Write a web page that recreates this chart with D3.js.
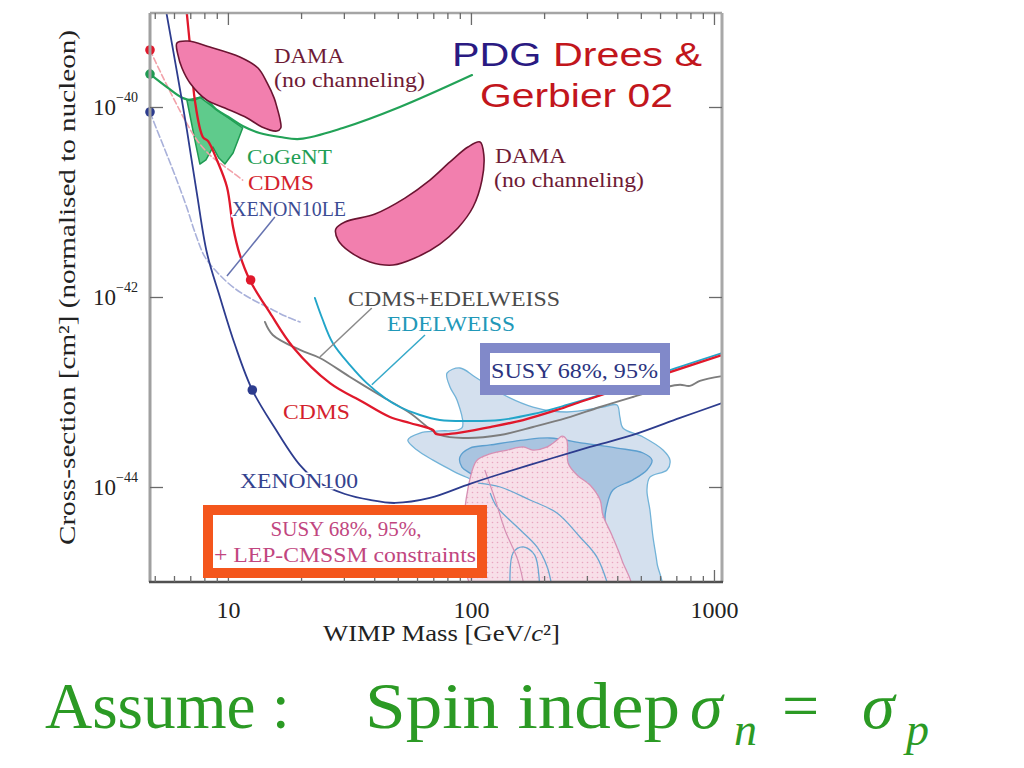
<!DOCTYPE html>
<html><head><meta charset="utf-8">
<script src="https://cdn.jsdelivr.net/npm/d3@7"></script>
<style>
html,body{margin:0;padding:0;background:#fff;}
svg{display:block;}
</style></head>
<body>
<svg id="c" width="1024" height="768"></svg>
<script>
// ---------- tick values ----------
const xTicksMajor = [10, 100, 1000];
const xTicksMinor = [5,6,7,8,9,20,30,40,50,60,70,80,90,200,300,400,500,600,700,800,900];
const yTicksMajor = [1e-40, 1e-42, 1e-44];
const yTickExp = ["\u221240", "\u221242", "\u221244"];

// ---------- exclusion curves [mass GeV, sigma cm^2] ----------
const xenon100 = [[5.51,1.19e-39],[6.17,2.34e-40],[6.78,5.73e-41],[7.45,1.24e-41],[8.20,2.90e-42],[9.27,1.0e-42],[10.7,3.12e-43],[12.6,1.05e-43],[15.6,4.18e-44],[19.8,1.70e-44],[23.9,1.10e-44],[30.3,8.44e-45],[38.4,7.30e-45],[48.7,6.79e-45],[67.8,7.66e-45],[99.1,1.08e-44],[132,1.37e-44],[217,2.02e-44],[309,2.64e-44],[464,3.53e-44],[725,5.33e-44],[1079,7.66e-44]];
const xenon10le = [[4.78,8.86e-41],[5.05,6.16e-41],[5.51,3.53e-41],[6.05,1.92e-41],[6.72,9.30e-42],[7.38,4.50e-42],[8.04,2.64e-42],[9.01,1.83e-42],[10.5,1.27e-42],[12.3,9.76e-43],[14.5,7.85e-43],[17.2,6.31e-43],[19.8,5.46e-43]];
const cdms = [[6.72,1.2e-39],[7.04,3.53e-40],[7.31,1.18e-40],[7.89,4.83e-41],[8.28,4.39e-41],[9.01,2.77e-41],[9.91,1.44e-41],[10.5,5.46e-42],[11.2,2.77e-42],[12.3,1.51e-42],[14.9,6.79e-43],[18.5,2.98e-43],[26.3,1.24e-43],[35.9,7.85e-44],[46.4,5.46e-44],[56.1,4.72e-44],[69.8,3.98e-44],[71.8,3.61e-44],[87.6,3.70e-44],[120,4.28e-44],[164,5.07e-44],[226,6.47e-44],[289,8.04e-44],[399,1.05e-43],[641,1.58e-43],[1079,2.45e-43]];
const cdmsLow = [[4.78,3.98e-40],[5.35,2.17e-40],[5.94,1.27e-40],[6.65,7.3e-41],[7.45,4.5e-41],[8.43,3.12e-41],[9.27,2.57e-41],[10.4,2.07e-41],[11.5,1.70e-41]];
const edelweiss = [[22.8,9.76e-43],[24.4,6.01e-43],[27.0,3.28e-43],[31.8,1.92e-43],[37.3,1.24e-43],[44.3,8.65e-44],[51.0,6.95e-44],[61.7,5.73e-44],[74.5,5.07e-44],[99.1,4.95e-44],[132,5.07e-44],[180,5.86e-44],[248,7.30e-44],[340,9.30e-44],[464,1.24e-43],[641,1.66e-43],[1079,2.57e-43]];
const cdmsEdelweiss = [[14.2,5.46e-43],[15.3,3.98e-43],[19.8,2.77e-43],[23.9,2.28e-43],[31.8,1.44e-43],[43.4,8.86e-44],[56.1,6.01e-44],[74.5,3.53e-44],[96.3,3.28e-44],[132,3.53e-44],[180,4.28e-44],[248,5.33e-44],[340,6.95e-44],[464,8.86e-44],[641,1.13e-43],[725,1.19e-43],[796,1.16e-43],[875,1.31e-43],[1079,1.47e-43]];
const cogentLine = [[4.78,2.22e-40],[5.61,1.62e-40],[6.53,1.24e-40],[7.18,1.18e-40],[7.89,1.27e-40],[9.01,9.3e-41],[10.2,7.66e-41],[11.5,6.31e-41],[13.5,5.33e-41],[16.4,4.83e-41],[19.8,4.61e-41],[29.7,6.01e-41],[51.0,1.0e-40],[101,2.17e-40]];

// ---------- label pointer lines ----------
const xenon10lePointer = [[15.6,6.95e-42],[9.91,1.66e-42]];
const cdmsEdelPointer = [[39.1,7.66e-43],[23.9,2.34e-43]];
const edelPointer = [[64.7,3.98e-43],[39.1,1.19e-43]];

// ---------- signal regions ----------
const dama1 = [[6.17,4.72e-40],[6.84,4.95e-40],[8.43,4.28e-40],[11.2,3.36e-40],[13.3,2.57e-40],[14.5,1.79e-40],[15.5,1.24e-40],[15.9,1.0e-40],[16.4,7.3e-41],[16.5,6.01e-41],[15.9,5.59e-41],[13.8,6.16e-41],[12.0,7.66e-41],[9.72,9.76e-41],[8.20,1.18e-40],[6.98,1.79e-40],[6.47,2.57e-40],[6.23,3.53e-40]];
const dama2 = [[109,4.28e-41],[113,3.12e-41],[111,1.70e-41],[102,8.86e-42],[88.4,5.33e-42],[74.5,3.61e-42],[58.8,2.57e-42],[47.8,2.17e-42],[38.4,2.34e-42],[31.8,2.98e-42],[28.4,3.98e-42],[27.8,5.2e-42],[30.3,6.16e-42],[40.3,7.48e-42],[53.5,1.10e-41],[67.8,1.70e-41],[82.0,2.64e-41],[97.2,3.79e-41]];
const cogentRegion = [[6.78,1.18e-40],[7.67,1.27e-40],[9.01,9.3e-41],[11.5,6.01e-41],[10.5,3.28e-41],[9.72,2.51e-41],[9.18,2.90e-41],[8.68,3.79e-41],[8.12,2.77e-41],[7.67,2.51e-41],[7.31,4.5e-41],[6.91,9.3e-41]];
const susy95 = [[79.7,1.58e-43],[90.1,1.79e-43],[104,1.44e-43],[132,9.76e-44],[180,6.95e-44],[248,6.16e-44],[349,6.95e-44],[399,7.30e-44],[410,5.46e-44],[422,4.18e-44],[511,3.36e-44],[617,2.45e-44],[659,1.92e-44],[641,1.51e-44],[545,1.27e-44],[530,9.30e-45],[545,5.73e-45],[561,2.98e-45],[583,1.58e-45],[600,8e-46],[106,8e-46],[106,4.50e-45],[104,1.10e-44],[87.6,1.40e-44],[69.8,1.92e-44],[60.0,2.45e-44],[55.0,3.12e-44],[61.7,3.70e-44],[74.5,3.89e-44],[91.8,4.18e-44],[87.6,8.24e-44],[82.0,1.13e-43]];
const susy68 = [[90.1,2.07e-44],[99.1,2.57e-44],[120,2.77e-44],[164,3.12e-44],[211,3.28e-44],[289,2.90e-44],[399,2.57e-44],[511,2.28e-44],[556,1.92e-44],[530,1.51e-44],[464,1.19e-44],[384,9.30e-45],[363,6.47e-45],[356,4.50e-45],[373,2.45e-45],[399,1.51e-45],[418,8e-46],[109,8e-46],[107,1.19e-44],[99.1,1.40e-44],[91.8,1.62e-44]];
const lepRegion = [[104,8e-46],[104,1.79e-44],[116,2.17e-44],[141,2.45e-44],[164,2.64e-44],[180,2.45e-44],[206,2.64e-44],[226,3.12e-44],[237,3.44e-44],[248,3.12e-44],[251,1.79e-44],[273,1.34e-44],[309,1.05e-44],[340,7.30e-45],[349,5.07e-45],[380,3.12e-45],[418,1.70e-45],[451,8e-46]];
const contourA = [[107,1.10e-44],[132,1.0e-44],[175,7.30e-45],[226,5.33e-45],[281,2.98e-45],[330,1.83e-45],[373,8e-46]];
const contourB = [[120,8.65e-45],[128,6.16e-45],[155,3.79e-45],[187,2.34e-45],[206,1.44e-45],[217,8e-46]];
const contourC = [[145,8e-46],[149,2.02e-45],[164,2.34e-45],[183,1.92e-45],[192,8e-46]];
const lepContour = [[114,1.51e-44],[126,7.30e-45],[138,3.53e-45],[156,1.70e-45],[167,8e-46]];

// ---------- markers ----------
const dotsRed = [[4.78,3.98e-40],[12.4,1.51e-42]];
const dotsGreen = [[4.78,2.22e-40]];
const dotsBlue = [[4.78,8.86e-41],[12.6,1.05e-43]];

// ---------- setup ----------
const svg = d3.select("#c");
const x = d3.scaleLog().domain([4.78, 1079]).range([150, 722]);
const y = d3.scaleLog().domain([1e-45, 1e-39]).range([582, 12]);
const X0 = x.range()[0], X1 = x.range()[1];
const YB = y(1e-45), YT = 13;
const SERIF = "'Liberation Serif','Times New Roman',serif";

const defs = svg.append("defs");
defs.append("clipPath").attr("id","plot").append("rect")
  .attr("x",X0).attr("y",YT).attr("width",X1-X0).attr("height",YB-YT);
const pat = defs.append("pattern").attr("id","dots").attr("width",5).attr("height",5).attr("patternUnits","userSpaceOnUse");
pat.append("rect").attr("width",5).attr("height",5).attr("fill","#f8dfe8");
pat.append("circle").attr("cx",2.5).attr("cy",2.5).attr("r",0.8).attr("fill","#e8a6c0");

const smooth = d3.line().x(d=>x(d[0])).y(d=>y(d[1])).curve(d3.curveCatmullRom.alpha(0.5));
const straight = d3.line().x(d=>x(d[0])).y(d=>y(d[1]));
const closedSmooth = d3.line().x(d=>x(d[0])).y(d=>y(d[1])).curve(d3.curveCatmullRomClosed.alpha(0.5));
const closedLinear = d3.line().x(d=>x(d[0])).y(d=>y(d[1])).curve(d3.curveLinearClosed);

const plot = svg.append("g").attr("clip-path","url(#plot)");

// SUSY regions
plot.append("path").attr("d",closedSmooth(susy95)).attr("fill","#d4e0ee").attr("stroke","#72b3d8").attr("stroke-width",1.3);
plot.append("path").attr("d",closedSmooth(susy68)).attr("fill","#a9c4e0").attr("stroke","#5c9fcf").attr("stroke-width",1.3);
plot.append("path").attr("d",closedSmooth(lepRegion)).attr("fill","url(#dots)").attr("stroke","#d690b4").attr("stroke-width",1.3);
[contourA, contourB, contourC].forEach(c=>{
  plot.append("path").attr("d",smooth(c)).attr("fill","none").attr("stroke","#6aa8d2").attr("stroke-width",1.3);
});
plot.append("path").attr("d",smooth(lepContour)).attr("fill","none").attr("stroke","#d690b4").attr("stroke-width",1.2);

// CoGeNT region
plot.append("path").attr("d",closedLinear(cogentRegion)).attr("fill","#5fcb8c").attr("stroke","#1f9a52").attr("stroke-width",1.5).attr("stroke-linejoin","round");

// curves
function curve(data, color, width, dash){
  const p = plot.append("path").attr("d",smooth(data)).attr("fill","none")
    .attr("stroke",color).attr("stroke-width",width).attr("stroke-linecap","round").attr("stroke-linejoin","round");
  if (dash) p.attr("stroke-dasharray",dash);
  return p;
}
curve(xenon10le, "#a9b1da", 1.6, "7,3");
curve(cdmsLow, "#f2a2aa", 1.6, "6,3");
curve(cogentLine, "#22a257", 2.2);
curve(cdmsEdelweiss, "#7d7d7d", 1.9);
curve(edelweiss, "#22a5c9", 1.9);
curve(cdms, "#e0182b", 2.3);
curve(xenon100, "#2d3c8e", 1.8);

// pointers
function pointer(data, color){
  plot.append("path").attr("d",straight(data)).attr("fill","none").attr("stroke",color).attr("stroke-width",1.5);
}
pointer(xenon10lePointer, "#6673b0");
pointer(cdmsEdelPointer, "#8a8a8a");
pointer(edelPointer, "#35a9c9");

// DAMA regions
[dama1, dama2].forEach(d=>{
  plot.append("path").attr("d",closedSmooth(d)).attr("fill","#f27fae").attr("stroke","#6b1431").attr("stroke-width",1.6);
});

// markers
function dots(data, color){
  svg.append("g").selectAll("circle").data(data).join("circle")
    .attr("cx",d=>x(d[0])).attr("cy",d=>y(d[1])).attr("r",4.8).attr("fill",color);
}
dots(dotsRed, "#e0182b");
dots(dotsGreen, "#1f9a52");
dots(dotsBlue, "#2d3c8e");

// ---------- frame & axes ----------
const frame = svg.append("g").attr("fill","none");
frame.append("line").attr("x1",X0).attr("x2",X1).attr("y1",YT).attr("y2",YT).attr("stroke","#a5a5a5").attr("stroke-width",2.5);
frame.append("line").attr("x1",X0).attr("x2",X0).attr("y1",YT).attr("y2",YB).attr("stroke","#a0a0a0").attr("stroke-width",3);
frame.append("line").attr("x1",X1).attr("x2",X1).attr("y1",YT).attr("y2",YB).attr("stroke","#a8a8a8").attr("stroke-width",3);
frame.append("line").attr("x1",X0-1).attr("x2",X1+1).attr("y1",YB).attr("y2",YB).attr("stroke","#505050").attr("stroke-width",2.5);

function styleAxis(g){ g.select(".domain").remove(); g.selectAll(".tick line").attr("stroke","#6a6a6a").attr("stroke-width",1.3); }

svg.append("g").attr("transform",`translate(0,${YB})`)
  .call(d3.axisBottom(x).tickValues(xTicksMinor).tickSize(-6).tickFormat("")).call(styleAxis);
const bAx = svg.append("g").attr("transform",`translate(0,${YB})`)
  .call(d3.axisBottom(x).tickValues(xTicksMajor).tickSize(-12).tickPadding(19).tickFormat(d3.format("d"))).call(styleAxis);
bAx.selectAll("text").attr("font-family",SERIF).attr("font-size",24).attr("fill","#222");

svg.append("g").attr("transform",`translate(0,${YT})`)
  .call(d3.axisTop(x).tickValues(xTicksMinor).tickSize(-6).tickFormat("")).call(styleAxis);
svg.append("g").attr("transform",`translate(0,${YT})`)
  .call(d3.axisTop(x).tickValues(xTicksMajor).tickSize(-12).tickFormat("")).call(styleAxis);
svg.append("g").attr("transform",`translate(${X0},0)`)
  .call(d3.axisLeft(y).tickValues(yTicksMajor).tickSize(-13).tickFormat("")).call(styleAxis);
svg.append("g").attr("transform",`translate(${X1},0)`)
  .call(d3.axisRight(y).tickValues(yTicksMajor).tickSize(-13).tickFormat("")).call(styleAxis);

// y tick labels 10^-n
yTicksMajor.forEach((v,i)=>{
  const t = svg.append("text").attr("x",93).attr("y",y(v)+8)
    .attr("font-family",SERIF).attr("font-size",23).attr("fill","#222");
  t.append("tspan").text("10");
  t.append("tspan").attr("font-size",14).attr("dy",-13).text(yTickExp[i]);
});

// axis titles
const xt = svg.append("text").attr("x",323).attr("y",641).attr("font-family",SERIF).attr("font-size",23)
  .attr("fill","#222").attr("textLength",237).attr("lengthAdjust","spacingAndGlyphs");
xt.append("tspan").text("WIMP Mass [GeV/");
xt.append("tspan").attr("font-style","italic").text("c");
xt.append("tspan").text("\u00b2]");

svg.append("text").attr("transform","translate(75,545) rotate(-90)")
  .attr("font-family",SERIF).attr("font-size",23).attr("fill","#222")
  .attr("textLength",515).attr("lengthAdjust","spacingAndGlyphs")
  .text("Cross-section [cm\u00b2] (normalised to nucleon)");

// ---------- curve labels ----------
const labelSpecs = [
  ["DAMA", 274, 63, 70, "#6e1a35"],
  ["(no channeling)", 274, 87, 151, "#6e1a35"],
  ["DAMA", 495, 163, 71, "#6e1a35"],
  ["(no channeling)", 494, 187, 150, "#6e1a35"],
  ["CoGeNT", 247, 164, 85, "#1f9e55"],
  ["CDMS", 248, 190, 66, "#d41f2e"],
  ["XENON10LE", 232, 216, 114, "#3c4c94"],
  ["CDMS+EDELWEISS", 348, 306, 212, "#4a4a4a"],
  ["EDELWEISS", 387, 331, 128, "#2198b8"],
  ["CDMS", 283, 419, 67, "#d41f2e"],
  ["XENON100", 240, 488, 118, "#34428e"]
];
labelSpecs.forEach(([t,lx,ly,w,c])=>{
  svg.append("text").attr("x",lx).attr("y",ly).attr("font-family",SERIF).attr("font-size",21)
    .attr("fill",c).attr("textLength",w).attr("lengthAdjust","spacingAndGlyphs")
    .attr("stroke","#fff").attr("stroke-width",3).attr("paint-order","stroke").attr("stroke-linejoin","round")
    .text(t);
});

// SUSY box
svg.append("rect").attr("x",485).attr("y",348).attr("width",180).attr("height",42)
  .attr("fill","#fff").attr("stroke","#8189c9").attr("stroke-width",10);
svg.append("text").attr("x",491).attr("y",378).attr("font-family",SERIF).attr("font-size",22)
  .attr("fill","#2c3480").attr("textLength",167).attr("lengthAdjust","spacingAndGlyphs").text("SUSY 68%, 95%");

// LEP-CMSSM box
svg.append("rect").attr("x",208).attr("y",510).attr("width",274).attr("height",63)
  .attr("fill","#fff").attr("stroke","#f4561c").attr("stroke-width",10);
svg.append("text").attr("x",346).attr("y",536).attr("text-anchor","middle").attr("font-family",SERIF).attr("font-size",21)
  .attr("fill","#c1467f").text("SUSY 68%, 95%,");
svg.append("text").attr("x",345).attr("y",562).attr("text-anchor","middle").attr("font-family",SERIF).attr("font-size",21)
  .attr("fill","#c1467f").attr("textLength",262).attr("lengthAdjust","spacingAndGlyphs").text("+ LEP-CMSSM constraints");

// ---------- overlay slide text ----------
const t1 = svg.append("text").attr("x",452).attr("y",66).attr("font-family","'Liberation Sans',Arial,sans-serif")
  .attr("font-size",33).attr("textLength",250).attr("lengthAdjust","spacingAndGlyphs");
t1.append("tspan").attr("fill","#2a1a82").text("PDG");
t1.append("tspan").attr("fill","#c2161c").text(" Drees &");
svg.append("text").attr("x",480).attr("y",107).attr("font-family","'Liberation Sans',Arial,sans-serif")
  .attr("font-size",33).attr("fill","#c2161c").attr("textLength",193).attr("lengthAdjust","spacingAndGlyphs").text("Gerbier 02");

// bottom statement
const G = "#2b9a24";
const eq = svg.append("g").attr("font-family",SERIF).attr("fill",G);
eq.append("text").attr("x",45).attr("y",728).attr("font-size",66).attr("textLength",245).attr("lengthAdjust","spacingAndGlyphs").text("Assume :");
eq.append("text").attr("x",365).attr("y",728).attr("font-size",66).attr("textLength",315).attr("lengthAdjust","spacingAndGlyphs").text("Spin indep");
eq.append("text").attr("x",690).attr("y",728).attr("font-size",66).attr("font-style","italic").text("\u03c3");
eq.append("text").attr("x",734).attr("y",745).attr("font-size",46).attr("font-style","italic").text("n");
eq.append("text").attr("x",782).attr("y",728).attr("font-size",66).text("=");
eq.append("text").attr("x",862).attr("y",728).attr("font-size",66).attr("font-style","italic").text("\u03c3");
eq.append("text").attr("x",906).attr("y",745).attr("font-size",46).attr("font-style","italic").text("p");
</script>
</body></html>
